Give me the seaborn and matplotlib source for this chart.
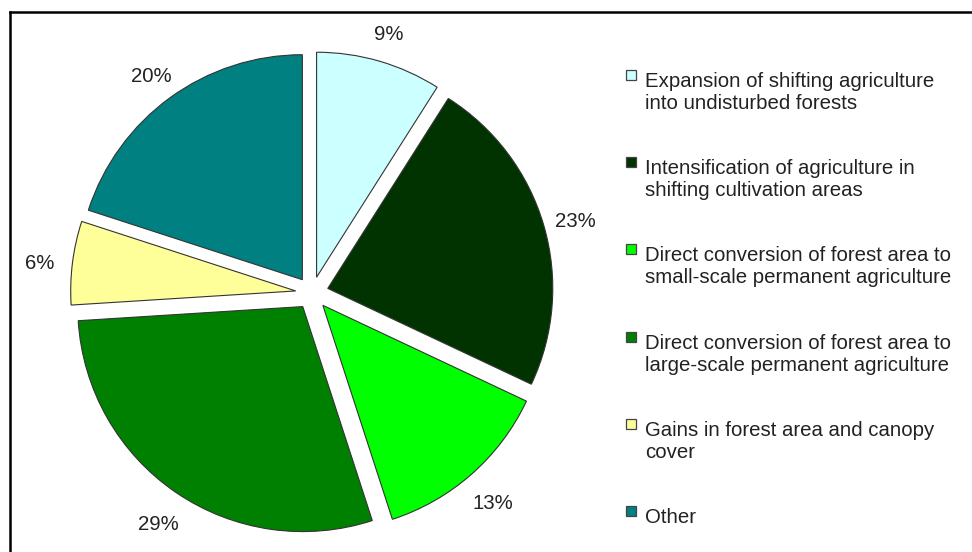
import matplotlib
matplotlib.use("Agg")
import matplotlib.pyplot as plt
from matplotlib.patches import Rectangle
from matplotlib.transforms import offset_copy
import seaborn as sns

# ---- data ----
categories = [
    "Expansion of shifting agriculture\ninto undisturbed forests",
    "Intensification of agriculture in\nshifting cultivation areas",
    "Direct conversion of forest area to\nsmall-scale permanent agriculture",
    "Direct conversion of forest area to\nlarge-scale permanent agriculture",
    "Gains in forest area and canopy\ncover",
    "Other",
]
values = [9, 23, 13, 29, 6, 20]
colors = ["#CCFFFF", "#003300", "#00FF00", "#008000", "#FFFF99", "#008080"]

sns.set_theme(style="white")
plt.rcParams["font.family"] = ["Liberation Sans", "DejaVu Sans"]

FS = 14.7
TXT = "#222222"
W, H = 972, 552

fig = plt.figure(figsize=(W / 100, H / 100), dpi=100)
fig.patch.set_facecolor("white")

# pie axes: centre at (312, 293) px from top, radius 225 px
R = 225.0
half = 1.35 * R
cx, cy = 312.0, H - 293.0
ax = fig.add_axes([(cx - half) / W, (cy - half) / H, 2 * half / W, 2 * half / H])
wedges, texts, autotexts = ax.pie(
    values,
    colors=colors,
    explode=[0.073] * len(values),
    startangle=90,
    counterclock=False,
    autopct=lambda p: f"{p:.0f}%",
    pctdistance=1.145,
    wedgeprops=dict(edgecolor="#333333", linewidth=0.8),
    textprops=dict(fontsize=FS, color=TXT),
)
ax.set_xlim(-1.35, 1.35)
ax.set_ylim(-1.35, 1.35)
ax.set_aspect("equal")
ax.axis("off")
for t in autotexts:
    t.set_transform(offset_copy(ax.transData, fig=fig, x=0, y=-5, units="dots"))

# overlay axes in pixel coordinates for legend and frame
lax = fig.add_axes([0, 0, 1, 1])
lax.set_xlim(0, W)
lax.set_ylim(H, 0)
lax.axis("off")

# frame lines (top and left)
lax.plot([9.5, W], [12, 12], color="black", lw=1.8, solid_capstyle="projecting")
lax.plot([9.5, 9.5], [12, H], color="black", lw=1.8, solid_capstyle="projecting")

# legend
mx, tx = 631.0, 645.0
y0, dy = 75.0, 87.2
for i, (lab, col) in enumerate(zip(categories, colors)):
    y = y0 + i * dy
    lax.add_patch(Rectangle((mx - 5, y - 5), 10, 10, facecolor=col,
                            edgecolor="#444444", linewidth=0.9))
    lax.text(tx, y - 3, lab, fontsize=FS, color=TXT, ha="left", va="top")

fig.savefig("out.png", dpi=100, facecolor="white")
